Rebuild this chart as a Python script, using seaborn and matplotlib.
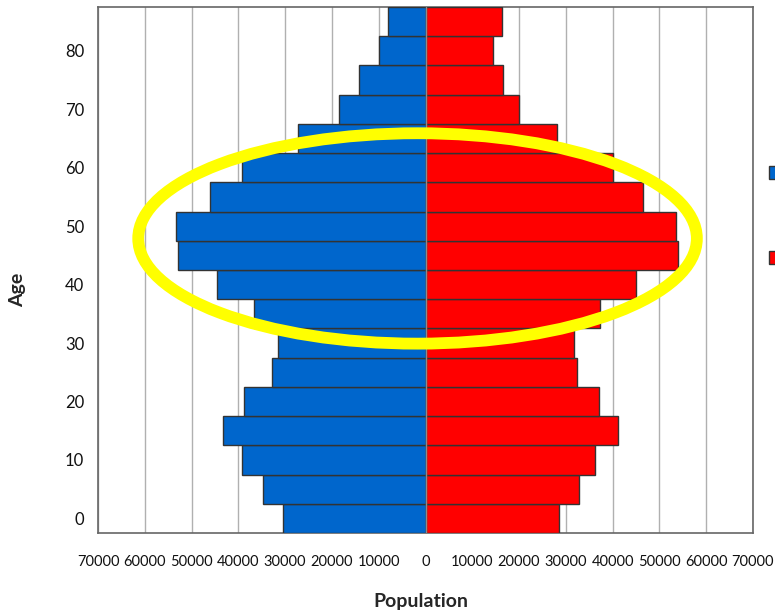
import matplotlib
matplotlib.use('Agg')
import pandas as pd
import matplotlib.pyplot as plt
import seaborn as sns
from matplotlib.patches import Ellipse

# Age groups (start of each 5-year band) and population per sex
ages = [0, 5, 10, 15, 20, 25, 30, 35, 40, 45, 50, 55, 60, 65, 70, 75, 80, 85]
male = [30400, 34700, 39200, 43200, 38900, 32900, 31500, 36600, 44600,
        52800, 53400, 46000, 39200, 27200, 18500, 14200, 9900, 8000]
female = [28600, 32900, 36300, 41100, 37100, 32300, 31700, 37400, 45000,
          53900, 53600, 46500, 40000, 28000, 20000, 16600, 14400, 16400]
x_ticks = list(range(-70000, 70001, 10000))
x_tick_labels = [str(abs(v)) for v in x_ticks]
y_ticks = [0, 10, 20, 30, 40, 50, 60, 70, 80]

df = pd.concat([
    pd.DataFrame({"Age": ages, "Population": [-v for v in male], "Sex": "Male"}),
    pd.DataFrame({"Age": ages, "Population": female, "Sex": "Female"}),
])

sns.set_style("white")
plt.rcParams['font.family'] = ['Lato', 'DejaVu Sans']

fig = plt.figure(figsize=(7.75, 6.12), dpi=100)
ax = fig.add_axes([98 / 775, 1 - 533 / 612, 655 / 775, 526 / 612])

sns.barplot(data=df, x="Population", y="Age", hue="Sex", orient="h",
            native_scale=True, dodge=False, width=1, saturation=1,
            palette={"Male": "#0066CC", "Female": "#FF0000"},
            edgecolor="#333333", linewidth=1, ax=ax, zorder=3)

ax.set_xlim(-70000, 70000)
ax.set_ylim(-2.5, 87.5)
ax.set_xticks(x_ticks)
ax.set_xticklabels(x_tick_labels)
ax.set_yticks(y_ticks)
ax.grid(axis="x", color="#b0b0b0", linewidth=1, zorder=0)
ax.set_axisbelow(True)
ax.axvline(0, color="#8c8c8c", linewidth=1, zorder=4)

for s in ax.spines.values():
    s.set_color("#666666")
    s.set_linewidth(1.2)
ax.tick_params(axis="x", length=4, color="#666666", pad=12, labelsize=10.5, labelcolor="#111111")
ax.tick_params(axis="y", length=0, pad=10, labelsize=12, labelcolor="#111111")

ax.set_xlabel("Population", fontsize=14, fontweight="bold")
ax.xaxis.set_label_coords(421 / 775, 1 - 602 / 612, transform=fig.transFigure)
ax.xaxis.label.set_va("center")
ax.set_ylabel("Age", fontsize=14, fontweight="bold")
ax.yaxis.set_label_coords(18 / 775, 1 - 290 / 612, transform=fig.transFigure)
ax.yaxis.label.set_va("center")

# highlight ring
ax.add_patch(Ellipse((-1700, 47.9), 119400, 36, fill=False,
                     edgecolor="#FFFF00", linewidth=8.5, zorder=6, clip_on=False))

# legend keys sit at the right edge; their labels fall outside the picture
handles, _ = ax.get_legend_handles_labels()
ax.legend(handles, ["", ""], loc="upper left",
          bbox_to_anchor=(769 / 775, 1 - 166 / 612),
          bbox_transform=fig.transFigure, frameon=False,
          handlelength=0.9, handleheight=0.9, labelspacing=4.6,
          handletextpad=0.5, fontsize=11, borderaxespad=0, borderpad=0)

fig.savefig("out.png", dpi=100)
